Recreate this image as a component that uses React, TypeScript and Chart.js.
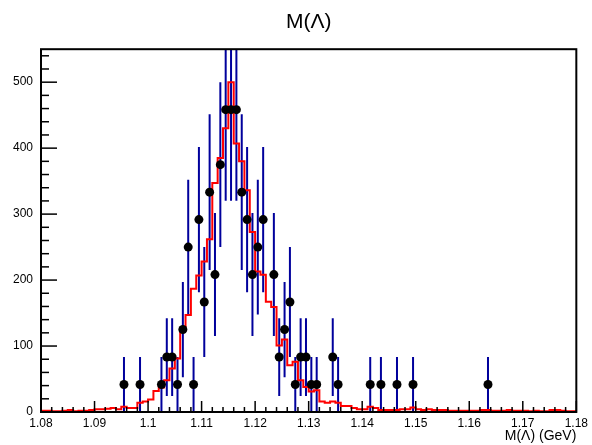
import React, { useEffect, useRef } from "react";
import { Chart, registerables } from "chart.js";

Chart.register(...registerables);

// ---- axis ranges / ticks ----
const X_MIN = 1.08;
const X_MAX = 1.18;
const Y_MAX = 550;
const BIN_WIDTH = 0.001; // 100 bins between 1.08 and 1.18
const xTickValues = [1.08, 1.09, 1.1, 1.11, 1.12, 1.13, 1.14, 1.15, 1.16, 1.17, 1.18];
const yTickValues = [0, 100, 200, 300, 400, 500];

// ---- MC histogram (red), content of each of the 100 bins ----
const mcCounts = [
  2, 2, 1, 1, 2, 3, 1, 2, 2, 3,
  4, 4, 5, 6, 4, 8, 6, 6, 14, 16,
  19, 32, 37, 48, 66, 81, 124, 147, 187, 207,
  228, 262, 347, 385, 430, 500, 407, 380, 336, 273,
  213, 208, 167, 159, 101, 110, 71, 76, 48, 38,
  31, 33, 16, 14, 16, 14, 9, 9, 6, 4,
  4, 8, 6, 3, 3, 3, 3, 4, 4, 7,
  4, 3, 4, 3, 3, 3, 2, 2, 2, 2,
  2, 2, 3, 3, 2, 2, 2, 3, 2, 2,
  2, 1, 2, 1, 1, 3, 3, 2, 1, 1,
];

// ---- data points (black markers, blue error bars) ----
const dataMass = [
  1.0955, 1.0985, 1.1025, 1.1035, 1.1045, 1.1055, 1.1065, 1.1075, 1.1085, 1.1095,
  1.1105, 1.1115, 1.1125, 1.1135, 1.1145, 1.1155, 1.1165, 1.1175, 1.1185, 1.1195,
  1.1205, 1.1215, 1.1235, 1.1245, 1.1255, 1.1265, 1.1275, 1.1285, 1.1295, 1.1305,
  1.1315, 1.1345, 1.1355, 1.1415, 1.1435, 1.1465, 1.1495, 1.1635,
];
const dataValues = [
  41.7, 41.7, 41.7, 83.3, 83.3, 41.7, 125, 250, 41.7, 291.7,
  166.7, 333.3, 208.3, 375, 458.3, 458.3, 458.3, 333.3, 291.7, 208.3,
  250, 291.7, 208.3, 83.3, 125, 166.7, 41.7, 83.3, 83.3, 41.7,
  41.7, 83.3, 41.7, 41.7, 41.7, 41.7, 41.7, 41.7,
];
const dataErrors = [
  41.7, 41.7, 41.7, 58.9, 58.9, 41.7, 72.2, 102.1, 41.7, 110.2,
  83.3, 117.9, 93.2, 125, 138.2, 138.2, 138.2, 117.9, 110.2, 93.2,
  102.1, 110.2, 93.2, 58.9, 72.2, 83.3, 41.7, 58.9, 58.9, 41.7,
  41.7, 58.9, 41.7, 41.7, 41.7, 41.7, 41.7, 41.7,
];

const FONT = "'Liberation Sans', Arial, Helvetica, sans-serif";

const errorBarPlugin = {
  id: "errorBars",
  beforeDatasetsDraw(chart: any) {
    const { ctx, chartArea: a, scales } = chart;
    const x = scales.x;
    const y = scales.y;
    ctx.save();
    ctx.beginPath();
    ctx.rect(a.left, a.top, a.right - a.left, a.bottom - a.top);
    ctx.clip();
    ctx.strokeStyle = "#00009c";
    ctx.lineWidth = 2;
    dataMass.forEach((m, i) => {
      const px = x.getPixelForValue(m);
      ctx.beginPath();
      ctx.moveTo(px, y.getPixelForValue(dataValues[i] - dataErrors[i]));
      ctx.lineTo(px, y.getPixelForValue(dataValues[i] + dataErrors[i]));
      ctx.stroke();
    });
    ctx.restore();
  },
};

const framePlugin = {
  id: "rootFrame",
  afterDatasetsDraw(chart: any) {
    const { ctx, chartArea: a, scales } = chart;
    const x = scales.x;
    const y = scales.y;
    ctx.save();
    ctx.strokeStyle = "#000";
    ctx.lineWidth = 1.5;
    // x ticks: major each 0.01, minor each 0.002
    for (let k = 0; k <= 50; k++) {
      const v = X_MIN + k * 0.002;
      const px = x.getPixelForValue(v);
      const len = k % 5 === 0 ? 11 : 5;
      ctx.beginPath();
      ctx.moveTo(px, a.bottom);
      ctx.lineTo(px, a.bottom - len);
      ctx.stroke();
    }
    // y ticks: major each 100, minor each 20
    for (let k = 0; k * 20 <= Y_MAX; k++) {
      const v = k * 20;
      const py = y.getPixelForValue(v);
      const len = k % 5 === 0 ? 16 : 8;
      ctx.beginPath();
      ctx.moveTo(a.left, py);
      ctx.lineTo(a.left + len, py);
      ctx.stroke();
    }
    ctx.lineWidth = 2;
    ctx.strokeRect(a.left, a.top, a.right - a.left, a.bottom - a.top);
    ctx.restore();
  },
};

export default function App() {
  const canvasRef = useRef<HTMLCanvasElement | null>(null);

  useEffect(() => {
    const canvas = canvasRef.current;
    if (!canvas) return;

    const mcData = mcCounts.map((v, i) => ({ x: X_MIN + i * BIN_WIDTH, y: v }));
    mcData.push({ x: X_MAX, y: mcCounts[mcCounts.length - 1] });
    const points = dataMass.map((m, i) => ({ x: m, y: dataValues[i] }));

    const chart = new Chart(canvas, {
      type: "scatter",
      data: {
        datasets: [
          {
            label: "Data",
            data: points,
            order: 0,
            pointRadius: 4.5,
            pointBackgroundColor: "#000",
            pointBorderColor: "#000",
            pointBorderWidth: 0,
            showLine: false,
          },
          {
            label: "MC",
            data: mcData,
            order: 1,
            showLine: true,
            stepped: "before",
            borderColor: "#ff0000",
            borderWidth: 2,
            pointRadius: 0,
            fill: false,
          },
        ],
      } as any,
      options: {
        animation: false,
        responsive: false,
        maintainAspectRatio: false,
        layout: { padding: { left: 0, right: 14, top: 0, bottom: 0 } },
        plugins: {
          legend: { display: false },
          tooltip: { enabled: false },
          title: {
            display: true,
            text: "M(Λ)",
            fullSize: false,
            color: "#000",
            font: { family: FONT, size: 21, weight: "normal" },
            padding: { top: 10, bottom: 14 },
          },
        },
        scales: {
          x: {
            type: "linear",
            min: X_MIN,
            max: X_MAX,
            afterBuildTicks: (s: any) => {
              s.ticks = xTickValues.map((value) => ({ value }));
            },
            afterFit: (s: any) => {
              s.height = 33;
            },
            ticks: {
              autoSkip: false,
              maxRotation: 0,
              padding: 4,
              color: "#000",
              font: { family: FONT, size: 12 },
              callback: (v: any) => String(Number(Number(v).toFixed(3))),
            },
            grid: { display: false, drawTicks: false },
            border: { display: false },
            title: {
              display: true,
              text: "M(Λ) (GeV)",
              align: "end",
              color: "#000",
              font: { family: FONT, size: 14 },
              padding: { top: 0, bottom: 0 },
            },
          },
          y: {
            type: "linear",
            min: 0,
            max: Y_MAX,
            afterBuildTicks: (s: any) => {
              s.ticks = yTickValues.map((value) => ({ value }));
            },
            afterFit: (s: any) => {
              s.width = 41;
            },
            ticks: {
              padding: 8,
              color: "#000",
              font: { family: FONT, size: 12 },
            },
            grid: { display: false, drawTicks: false },
            border: { display: false },
          },
        },
      } as any,
      plugins: [errorBarPlugin, framePlugin],
    });

    return () => chart.destroy();
  }, []);

  return (
    <div style={{ position: "absolute", left: 0, top: 0, width: 592, height: 445, background: "#fff" }}>
      <canvas ref={canvasRef} width={592} height={445} style={{ display: "block" }} />
    </div>
  );
}
